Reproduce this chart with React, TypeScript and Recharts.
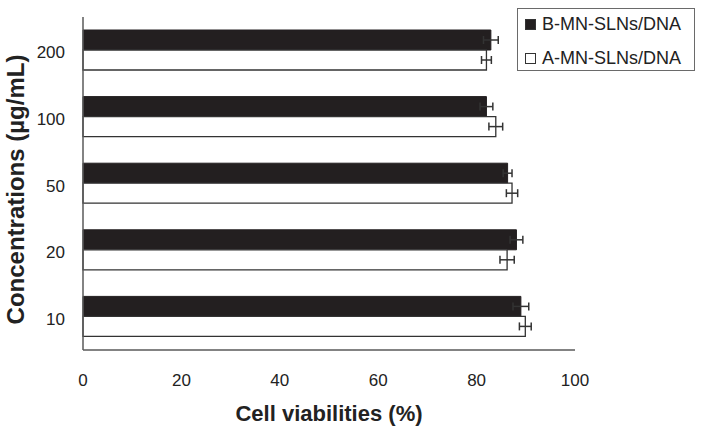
import { Bar, BarChart, ErrorBar, Label, Legend, XAxis, YAxis } from "recharts";

const concentrations = ["200", "100", "50", "20", "10"];
const seriesNames = ["B-MN-SLNs/DNA", "A-MN-SLNs/DNA"];
const bValues = [82.9, 82.0, 86.3, 88.1, 89.0];
const bErrors = [1.5, 1.3, 0.9, 1.3, 1.6];
const aValues = [82.0, 83.9, 87.2, 86.2, 89.9];
const aErrors = [1.0, 1.4, 1.15, 1.45, 1.2];
const xTicks = [0, 20, 40, 60, 80, 100];
const bandEdges = [0, 1, 2, 3, 4, 5];

const FONT = "'Liberation Sans', Arial, Helvetica, sans-serif";
const AXIS = "#5a5a5a";
const INK = "#231f20";

const rows = concentrations.map((conc, i) => ({
  conc,
  b: bValues[i],
  bErr: bErrors[i],
  a: aValues[i],
  aErr: aErrors[i],
}));

function LegendBox({ payload }: any) {
  // keep the series order (recharts sorts legend items by name)
  const items = [...(payload || [])].sort(
    (p: any, q: any) => seriesNames.indexOf(p.value) - seriesNames.indexOf(q.value)
  );
  return (
    <div
      style={{
        width: 178,
        height: 63,
        border: "1px solid #6a6a6a",
        background: "#fff",
        boxSizing: "border-box",
        fontFamily: FONT,
        fontSize: 18,
        color: "#222",
        paddingLeft: 7,
      }}
    >
      {items.map((entry: any, i: number) => (
        <div
          key={entry.value}
          style={{
            display: "flex",
            alignItems: "center",
            height: 34,
            marginTop: i === 0 ? -2 : 0,
          }}
        >
          <span
            style={{
              display: "inline-block",
              width: 11,
              height: 11,
              boxSizing: "border-box",
              background: entry.color,
              border: "1px solid #333",
              marginRight: 6,
            }}
          />
          <span>{entry.value}</span>
        </div>
      ))}
    </div>
  );
}

export default function App() {
  return (
    <div style={{ position: "absolute", left: 0, top: 0, background: "#fff" }}>
      <BarChart
        width={702}
        height={434}
        data={rows}
        layout="vertical"
        barSize={20}
        barGap={0}
        margin={{ top: 17, right: 127, bottom: 0, left: 0 }}
        style={{ fontFamily: FONT }}
      >
        <XAxis
          type="number"
          domain={[0, 100]}
          ticks={xTicks}
          height={84}
          tickLine={false}
          tickSize={0}
          tickMargin={24}
          axisLine={{ stroke: AXIS, strokeWidth: 1.5 }}
          tick={{ fontSize: 17, fill: "#222", fontFamily: FONT }}
        >
          <Label
            content={({ viewBox }: any) => (
              <text
                x={viewBox.x + viewBox.width / 2}
                y={viewBox.y + 71}
                textAnchor="middle"
                fontSize={22}
                fontWeight="bold"
                fill="#222"
                fontFamily={FONT}
              >
                Cell viabilities (%)
              </text>
            )}
          />
        </XAxis>
        <XAxis
          xAxisId="marks"
          type="number"
          domain={[0, 100]}
          ticks={xTicks}
          mirror
          height={0}
          tick={false}
          axisLine={false}
          tickSize={7}
          tickLine={{ stroke: AXIS, strokeWidth: 1.5 }}
        />
        <YAxis
          type="category"
          dataKey="conc"
          width={83}
          tickLine={false}
          tickSize={0}
          tickMargin={18}
          axisLine={{ stroke: AXIS, strokeWidth: 1.5 }}
          tick={{ fontSize: 17, fill: "#222", fontFamily: FONT, dy: 2 }}
        >
          <Label
            content={({ viewBox }: any) => {
              const cx = viewBox.x + 24;
              const cy = viewBox.y + viewBox.height / 2 + 6;
              return (
                <text
                  x={cx}
                  y={cy}
                  transform={`rotate(-90 ${cx} ${cy})`}
                  textAnchor="middle"
                  fontSize={24}
                  fontWeight="bold"
                  fill="#222"
                  fontFamily={FONT}
                >
                  Concentrations (µg/mL)
                </text>
              );
            }}
          />
        </YAxis>
        <YAxis
          yAxisId="marks"
          type="number"
          domain={[0, 5]}
          ticks={bandEdges}
          mirror
          width={0}
          tick={false}
          axisLine={false}
          tickSize={7}
          tickLine={{ stroke: AXIS, strokeWidth: 1.5 }}
        />
        <Legend
          layout="vertical"
          align="center"
          verticalAlign="middle"
          wrapperStyle={{ top: 8, left: 517, width: 178, height: 63 }}
          content={<LegendBox />}
        />
        <Bar
          dataKey="b"
          name={seriesNames[0]}
          fill={INK}
          stroke={INK}
          strokeWidth={1}
          isAnimationActive={false}
        >
          <ErrorBar dataKey="bErr" direction="x" width={4} stroke="#333" strokeWidth={1.5} />
        </Bar>
        <Bar
          dataKey="a"
          name={seriesNames[1]}
          fill="#fff"
          stroke="#333"
          strokeWidth={1.3}
          isAnimationActive={false}
        >
          <ErrorBar dataKey="aErr" direction="x" width={4} stroke="#333" strokeWidth={1.5} />
        </Bar>
      </BarChart>
    </div>
  );
}
